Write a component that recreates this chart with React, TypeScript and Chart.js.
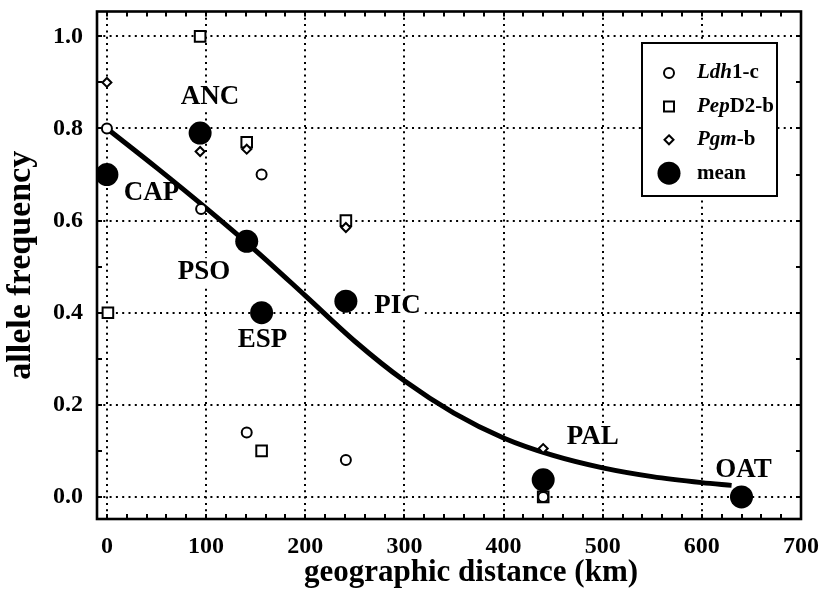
import React, { useEffect, useRef } from 'react';
import { Chart, registerables } from 'chart.js';

Chart.register(...registerables);

// ---- data ----
const curveX = [0, 50, 100, 150, 200, 250, 300, 350, 400, 450, 500, 550, 600, 630];
const curveY = [0.8, 0.715, 0.627, 0.535, 0.437, 0.338, 0.252, 0.182, 0.128, 0.09, 0.063, 0.044, 0.031, 0.025];

const ldhX = [0, 95, 141, 156, 241, 440, 640];
const ldhY = [0.8, 0.625, 0.14, 0.7, 0.08, 0.0, 0.0];
const pepX = [1, 94, 141, 156, 241, 440, 640];
const pepY = [0.4, 1.0, 0.77, 0.1, 0.6, 0.0, 0.0];
const pgmX = [0, 94, 141, 156, 241, 440, 640];
const pgmY = [0.9, 0.75, 0.755, 0.4, 0.585, 0.105, 0.0];
const meanX = [0, 94, 141, 156, 241, 440, 640];
const meanY = [0.7, 0.79, 0.555, 0.4, 0.425, 0.037, 0.0];

const siteNames = ['CAP', 'ANC', 'PSO', 'ESP', 'PIC', 'PAL', 'OAT'];
const siteLabelX = [45, 104, 98, 157, 293, 490, 642];
const siteLabelY = [0.66, 0.868, 0.488, 0.341, 0.415, 0.13, 0.058];

const xTicks = [0, 100, 200, 300, 400, 500, 600, 700];
const yTicks = [0, 0.2, 0.4, 0.6, 0.8, 1.0];

const xTitle = 'geographic distance (km)';
const yTitle = 'allele frequency';

const legendItems = [
  { parts: [['Ldh', true], ['1-c', false]], symbol: 'circle' },
  { parts: [['Pep', true], ['D2-b', false]], symbol: 'square' },
  { parts: [['Pgm', true], ['-b', false]], symbol: 'diamond' },
  { parts: [['mean', false]], symbol: 'mean' },
];

const SERIF = '"Liberation Serif", "Times New Roman", Times, serif';

const zip = (xs: number[], ys: number[]) => xs.map((x, i) => ({ x, y: ys[i] }));

const decorPlugin = {
  id: 'decor',
  beforeDatasetsDraw(chart: any) {
    const { ctx, scales } = chart;
    const x = scales.x;
    const y = scales.y;
    ctx.save();
    ctx.font = `bold 27px ${SERIF}`;
    ctx.textAlign = 'center';
    ctx.textBaseline = 'middle';
    siteNames.forEach((name, i) => {
      const px = x.getPixelForValue(siteLabelX[i]);
      const py = y.getPixelForValue(siteLabelY[i]);
      const w = ctx.measureText(name).width;
      ctx.fillStyle = '#fff';
      ctx.fillRect(px - w / 2 - 4, py - 14, w + 8, 28);
      ctx.fillStyle = '#000';
      ctx.fillText(name, px, py);
    });
    ctx.restore();
  },
  afterDatasetsDraw(chart: any) {
    const { ctx, chartArea, scales } = chart;
    const x = scales.x;
    const y = scales.y;
    const { left, right, top, bottom } = chartArea;
    ctx.save();
    // minor tick marks
    ctx.strokeStyle = '#000';
    ctx.lineWidth = 2;
    ctx.beginPath();
    for (let v = 0; v <= 700; v += 20) {
      const px = Math.round(x.getPixelForValue(v));
      ctx.moveTo(px, bottom);
      ctx.lineTo(px, bottom - 5);
      ctx.moveTo(px, top);
      ctx.lineTo(px, top + 5);
    }
    for (let k = 0; k <= 10; k++) {
      const py = Math.round(y.getPixelForValue(k / 10));
      ctx.moveTo(left, py);
      ctx.lineTo(left + 5, py);
      ctx.moveTo(right, py);
      ctx.lineTo(right - 5, py);
    }
    ctx.stroke();
    // frame
    ctx.lineWidth = 2.6;
    ctx.strokeRect(left, top, right - left, bottom - top);

    // legend box
    const bx = 642, by = 43, bw = 135, bh = 153;
    ctx.fillStyle = '#fff';
    ctx.fillRect(bx, by, bw, bh);
    ctx.lineWidth = 2;
    ctx.strokeStyle = '#000';
    ctx.strokeRect(bx, by, bw, bh);
    const symX = 669;
    const textX = 697;
    legendItems.forEach((item, i) => {
      const cy = 73 + i * 33.4;
      ctx.lineWidth = 2;
      ctx.strokeStyle = '#000';
      ctx.fillStyle = '#fff';
      ctx.beginPath();
      if (item.symbol === 'circle') {
        ctx.arc(symX, cy, 5, 0, Math.PI * 2);
        ctx.fill();
        ctx.stroke();
      } else if (item.symbol === 'square') {
        ctx.rect(symX - 5, cy - 5, 10, 10);
        ctx.fill();
        ctx.stroke();
      } else if (item.symbol === 'diamond') {
        ctx.moveTo(symX, cy - 4.5);
        ctx.lineTo(symX + 4.5, cy);
        ctx.lineTo(symX, cy + 4.5);
        ctx.lineTo(symX - 4.5, cy);
        ctx.closePath();
        ctx.fill();
        ctx.stroke();
      } else {
        ctx.arc(symX, cy, 11.5, 0, Math.PI * 2);
        ctx.fillStyle = '#000';
        ctx.fill();
      }
      ctx.fillStyle = '#000';
      ctx.textAlign = 'left';
      ctx.textBaseline = 'middle';
      let tx = textX;
      item.parts.forEach(([txt, italic]) => {
        ctx.font = `${italic ? 'italic ' : ''}bold 21px ${SERIF}`;
        ctx.fillText(txt as string, tx, cy);
        tx += ctx.measureText(txt as string).width;
      });
    });

    // x axis title
    ctx.font = `bold 31px ${SERIF}`;
    ctx.textAlign = 'center';
    ctx.textBaseline = 'middle';
    ctx.fillStyle = '#000';
    ctx.fillText(xTitle, 471, 573);
    ctx.restore();
  },
};

export default function App() {
  const canvasRef = useRef<HTMLCanvasElement | null>(null);

  useEffect(() => {
    const canvas = canvasRef.current;
    if (!canvas) return;
    const chart = new Chart(canvas, {
      type: 'scatter',
      data: {
        datasets: [
          {
            label: 'mean',
            data: zip(meanX, meanY),
            pointStyle: 'circle',
            pointRadius: 11.5,
            pointBackgroundColor: '#000',
            pointBorderColor: '#000',
            pointBorderWidth: 0,
            order: 0,
          },
          {
            label: 'Ldh1-c',
            data: zip(ldhX, ldhY),
            pointStyle: 'circle',
            pointRadius: 5,
            pointBackgroundColor: '#fff',
            pointBorderColor: '#000',
            pointBorderWidth: 2,
            order: 1,
          },
          {
            label: 'Pgm-b',
            data: zip(pgmX, pgmY),
            pointStyle: 'rectRot',
            pointRadius: 4.5,
            pointBackgroundColor: '#fff',
            pointBorderColor: '#000',
            pointBorderWidth: 2,
            order: 2,
          },
          {
            label: 'PepD2-b',
            data: zip(pepX, pepY),
            pointStyle: 'rect',
            pointRadius: 7.5,
            pointBackgroundColor: '#fff',
            pointBorderColor: '#000',
            pointBorderWidth: 2,
            order: 3,
          },
          {
            label: 'fit',
            data: zip(curveX, curveY),
            showLine: true,
            pointRadius: 0,
            borderColor: '#000',
            borderWidth: 5,
            cubicInterpolationMode: 'monotone',
            order: 4,
          } as any,
        ],
      },
      options: {
        animation: false,
        responsive: false,
        events: [],
        layout: { padding: { left: 0, right: 22, top: 7, bottom: 0 } },
        plugins: {
          legend: { display: false },
          tooltip: { enabled: false },
        },
        scales: {
          x: {
            type: 'linear',
            min: -10,
            max: 700,
            afterBuildTicks: (s: any) => {
              s.ticks = xTicks.map((v) => ({ value: v }));
            },
            afterFit: (s: any) => {
              s.height = 81;
              s.paddingLeft = 0;
              s.paddingRight = 0;
            },
            ticks: {
              color: '#000',
              font: { family: SERIF, size: 24, weight: 'bold' },
              padding: 13,
              maxRotation: 0,
              autoSkip: false,
              callback: (v: any) => String(v),
            },
            grid: { color: '#000', lineWidth: 2, drawTicks: false },
            border: { display: false, dash: [2, 4.3] },
          },
          y: {
            type: 'linear',
            min: -0.048,
            max: 1.054,
            afterBuildTicks: (s: any) => {
              s.ticks = yTicks.map((v) => ({ value: v }));
            },
            afterFit: (s: any) => {
              s.width = 97;
              s.paddingTop = 0;
              s.paddingBottom = 0;
            },
            ticks: {
              color: '#000',
              font: { family: SERIF, size: 24, weight: 'bold' },
              padding: 14,
              autoSkip: false,
              callback: (v: any) => Number(v).toFixed(1),
            },
            grid: { color: '#000', lineWidth: 2, drawTicks: false },
            border: { display: false, dash: [2, 4.3] },
            title: {
              display: true,
              text: yTitle,
              color: '#000',
              font: { family: SERIF, size: 34, weight: 'bold' },
              padding: { top: 1, bottom: 0 },
            },
          },
        },
      },
      plugins: [decorPlugin],
    } as any);
    return () => chart.destroy();
  }, []);

  return (
    <div style={{ position: 'absolute', left: 0, top: 0, width: 823, height: 600, background: '#fff' }}>
      <canvas ref={canvasRef} width={823} height={600} style={{ display: 'block' }} />
    </div>
  );
}
